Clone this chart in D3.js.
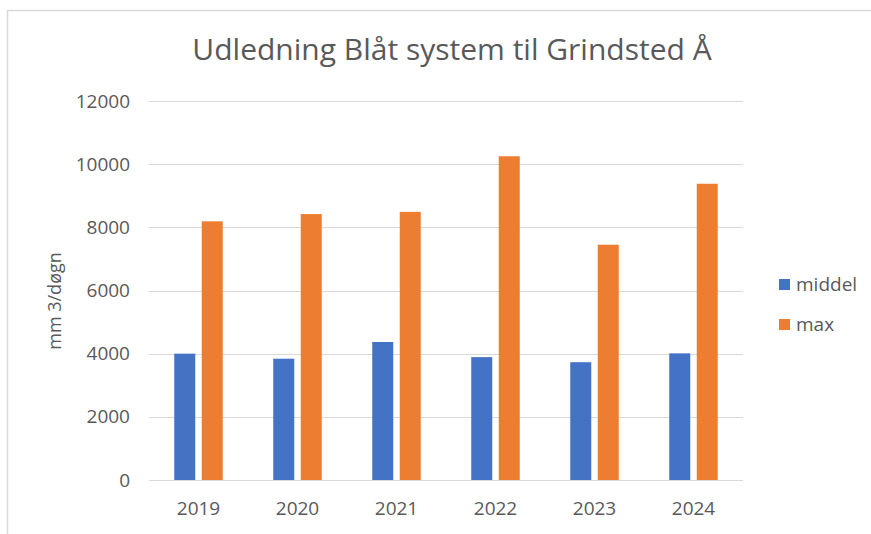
<!DOCTYPE html>
<html>
<head>
<meta charset="utf-8">
<script src="https://cdn.jsdelivr.net/npm/d3@7"></script>
<style>
  body { margin: 0; background: #fff; }
  text { font-family: "Open Sans", "Lato", sans-serif; fill: #595959; }
</style>
</head>
<body>
<div id="chart"></div>
<script>
// data
var years = ["2019", "2020", "2021", "2022", "2023", "2024"];
var seriesNames = ["middel", "max"];
var middel = [4000, 3840, 4370, 3890, 3730, 4010];
var maxVals = [8190, 8420, 8490, 10250, 7450, 9380];
var yTicks = [0, 2000, 4000, 6000, 8000, 10000, 12000];

var colors = {middel: "#4472C4", max: "#ED7D31"};

var W = 871, H = 534;
var margin = {top: 101, left: 149, right: 128, bottom: 54};
var width = W - margin.left - margin.right,
    height = H - margin.top - margin.bottom;

var svg = d3.select("#chart")
    .append("svg")
    .attr("width", W)
    .attr("height", H);

// outer frame (only top and left edges visible)
svg.append("path")
    .attr("d", "M7.5," + H + "V10.5H" + W)
    .attr("fill", "none")
    .attr("stroke", "#d9d9d9")
    .attr("stroke-width", 1.5);

var g = svg.append("g")
    .attr("transform", "translate(" + margin.left + "," + margin.top + ")");

var rows = years.map(function (y, i) {
    return {year: y, middel: middel[i], max: maxVals[i]};
});

// scales
var x0 = d3.scaleBand()
    .domain(years)
    .range([0, width]);

var half = 24.25;
var x1 = d3.scaleBand()
    .domain(seriesNames)
    .range([x0.bandwidth() / 2 - half, x0.bandwidth() / 2 + half])
    .paddingInner(0.236);

var y = d3.scaleLinear()
    .domain([0, 12000])
    .range([height, 0]);

// gridlines
g.append("g")
    .selectAll("line")
    .data(yTicks)
    .enter()
    .append("line")
    .attr("x1", 0)
    .attr("x2", width)
    .attr("y1", function (d) { return Math.round(y(d)) + 0.5; })
    .attr("y2", function (d) { return Math.round(y(d)) + 0.5; })
    .attr("stroke", "#d9d9d9")
    .attr("stroke-width", 1.2);

// y axis labels
var yAxis = g.append("g")
    .attr("transform", "translate(-19,0)")
    .call(d3.axisLeft(y).tickValues(yTicks).tickFormat(d3.format("d")).tickSize(0).tickPadding(0));
yAxis.select(".domain").remove();
yAxis.selectAll("text")
    .style("font-size", "19px")
    .style("fill", "#595959");

// x axis labels
var xAxis = g.append("g")
    .attr("transform", "translate(0," + height + ")")
    .call(d3.axisBottom(x0).tickSize(0).tickPadding(22));
xAxis.select(".domain").remove();
xAxis.selectAll("text")
    .style("font-size", "19px")
    .style("fill", "#595959");

// bars
g.append("g")
    .selectAll("g")
    .data(rows)
    .enter()
    .append("g")
    .attr("transform", function (d) { return "translate(" + x0(d.year) + ",0)"; })
    .selectAll("rect")
    .data(function (d) { return seriesNames.map(function (k) { return {key: k, value: d[k]}; }); })
    .enter()
    .append("rect")
    .attr("x", function (d) { return x1(d.key); })
    .attr("y", function (d) { return y(d.value); })
    .attr("width", x1.bandwidth())
    .attr("height", function (d) { return height - y(d.value); })
    .attr("fill", function (d) { return colors[d.key]; });

// title
svg.append("text")
    .attr("x", 452)
    .attr("y", 60)
    .attr("text-anchor", "middle")
    .style("font-size", "30px")
    .text("Udledning Blåt system til Grindsted Å");

// y axis title
svg.append("text")
    .attr("transform", "translate(61,301) rotate(-90)")
    .attr("text-anchor", "middle")
    .style("font-size", "18px")
    .text("mm 3/døgn");

// legend
var legend = svg.append("g")
    .selectAll("g")
    .data(seriesNames)
    .enter()
    .append("g")
    .attr("transform", function (d, i) { return "translate(779," + (279 + i * 40) + ")"; });

legend.append("rect")
    .attr("width", 11)
    .attr("height", 11)
    .attr("fill", function (d) { return colors[d]; });

legend.append("text")
    .attr("x", 17)
    .attr("y", 5)
    .attr("dy", "0.35em")
    .style("font-size", "19px")
    .text(function (d) { return d; });
</script>
</body>
</html>
